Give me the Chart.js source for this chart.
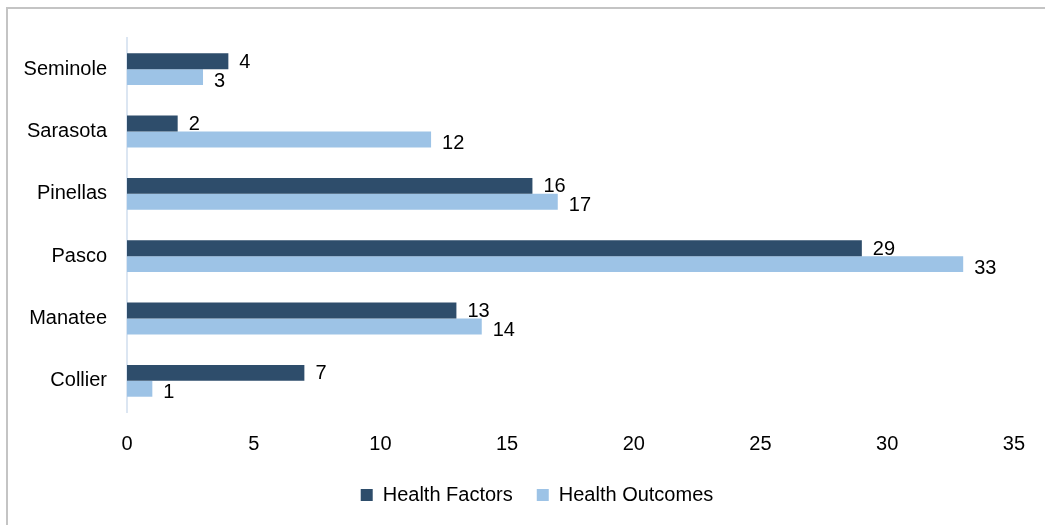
<!DOCTYPE html>
<html>
<head>
<meta charset="utf-8">
<script src="https://cdn.jsdelivr.net/npm/chart.js@4"></script>
<style>
  html, body { margin: 0; padding: 0; background: #fff; }
  #wrap { position: relative; width: 1045px; height: 525px; }
  #frame { position: absolute; left: 6px; top: 7px; right: 0; bottom: 0; border-left: 2px solid #c4c4c4; border-top: 2px solid #c4c4c4; }
  canvas { position: absolute; left: 0; top: 0; }
</style>
</head>
<body>
<div id="wrap">
  <div id="frame"></div>
  <canvas id="countyChart" width="1045" height="525"></canvas>
</div>
<script>
const counties = ['Seminole', 'Sarasota', 'Pinellas', 'Pasco', 'Manatee', 'Collier'];
const healthFactors = [4, 2, 16, 29, 13, 7];
const healthOutcomes = [3, 12, 17, 33, 14, 1];
const xTicks = [0, 5, 10, 15, 20, 25, 30, 35];

const fontFamily = '"Liberation Sans", Arial, sans-serif';
const font = { family: fontFamily, size: 20 };

// labels to the right of each bar
const barLabels = {
  id: 'barLabels',
  afterLayout(chart) {
    // legend sits a bit right of centre in the original
    chart.legend.left += 29;
    chart.legend.right += 29;
  },
  afterDatasetsDraw(chart) {
    const c = chart.ctx;
    c.save();
    c.font = '20px ' + fontFamily;
    c.fillStyle = '#000';
    c.textBaseline = 'middle';
    chart.data.datasets.forEach((ds, i) => {
      chart.getDatasetMeta(i).data.forEach((bar, j) => {
        const dy = i === 0 ? 1 : 4;
        c.fillText(ds.data[j], bar.x + 11, bar.y + dy);
      });
    });
    c.restore();
  }
};

new Chart(document.getElementById('countyChart'), {
  type: 'bar',
  data: {
    labels: counties,
    datasets: [{
      label: 'Health Factors',
      data: healthFactors,
      backgroundColor: '#2e4d6b',
      categoryPercentage: 0.51,
      barPercentage: 1
    }, {
      label: 'Health Outcomes',
      data: healthOutcomes,
      backgroundColor: '#9dc3e6',
      categoryPercentage: 0.51,
      barPercentage: 1
    }]
  },
  options: {
    indexAxis: 'y',
    responsive: false,
    animation: false,
    layout: { padding: { top: 38, right: 29, bottom: 10, left: 0 } },
    scales: {
      x: {
        min: 0,
        max: 35,
        afterBuildTicks: (s) => { s.ticks = xTicks.map(v => ({ value: v })); },
        afterFit: (s) => { s.height = 49; },
        grid: { display: false, drawTicks: false },
        border: { display: false },
        ticks: { color: '#000', font, padding: 20 }
      },
      y: {
        afterFit: (s) => { s.width = 127; },
        grid: { display: false, drawTicks: false },
        border: { display: true, color: '#dce6f2', width: 2 },
        ticks: { color: '#000', font, padding: 20 }
      }
    },
    plugins: {
      legend: {
        position: 'bottom',
        labels: { color: '#000', font, boxWidth: 12, boxHeight: 12, padding: 24 }
      },
      tooltip: { enabled: false }
    }
  },
  plugins: [barLabels]
});
</script>
</body>
</html>
